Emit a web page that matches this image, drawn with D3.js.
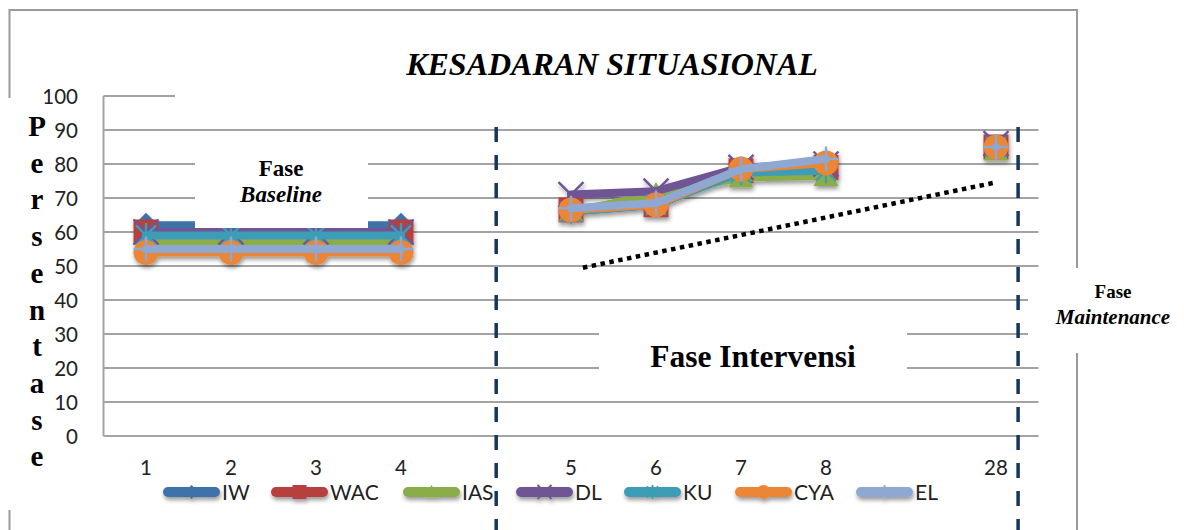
<!DOCTYPE html>
<html>
<head>
<meta charset="utf-8">
<script src="https://cdn.jsdelivr.net/npm/d3@7"></script>
<style>
  html, body { margin: 0; padding: 0; background: #fff; }
  svg { display: block; }
</style>
</head>
<body>
<svg id="chart" width="1184" height="530"></svg>
<script>
// ---------------- DATA ----------------
const xLabels = ["1", "2", "3", "4", "", "5", "6", "7", "8", "", "28"];
const yTicks = [0, 10, 20, 30, 40, 50, 60, 70, 80, 90, 100];
const seriesNames = ["IW", "WAC", "IAS", "DL", "KU", "CYA", "EL"];
const IW  = [62, 62, 62, 62, null, 66, 68, 78, 80, null, 85];
const WAC = [60, 60, 60, 60, null, 66.5, 68, 78, 79, null, 85];
const IAS = [57, 57, 57, 57, null, 66, 71, 76, 76.5, null, 84];
const DL  = [60, 60, 60, 60, null, 71, 72, 79, 80, null, 86];
const KU  = [59, 59, 59, 59, null, 66, 68, 77.5, 78, null, 85];
const CYA = [54, 54, 54, 54, null, 66.5, 68, 78.5, 80.3, null, 85];
const EL  = [55, 55, 55, 55, null, 67, 68.5, 78.5, 81.5, null, 85];
const seriesValues = [IW, WAC, IAS, DL, KU, CYA, EL];
// trend line (index of category + fraction of band, value)
const trendIdx = [5.14, 9.98];
const trendVal = [49.5, 74.5];
// phase separators (category index + fraction)
const phaseIdx = [4.12, 10.26];
const titleText = "KESADARAN SITUASIONAL";
const yTitle = "Persentase";

// ---------------- STYLE / LAYOUT ----------------
const colors = ["#3f72aa", "#b5403c", "#8aad4a", "#6f5595", "#3d9cb6", "#ea8634", "#8ea8d2"];
const markers = ["diamond", "square", "triangle", "x", "star", "circle", "plus"];
const legendStarts = [163, 271, 403, 516, 624, 735, 856];

const svg = d3.select("#chart");
const plot = { left: 103.5, right: 1038.5, top: 96, bottom: 436 };

const x = d3.scaleBand().domain(d3.range(xLabels.length)).range([plot.left, plot.right]).paddingInner(0).paddingOuter(0);
const xc = i => x(Math.floor(i)) + x.bandwidth() * (0.5 + (i - Math.floor(i)));
const y = d3.scaleLinear().domain([0, 100]).range([plot.bottom, plot.top]);

const defs = svg.append("defs");
const f = defs.append("filter").attr("id", "shadow").attr("x", "-20%").attr("y", "-30%").attr("width", "140%").attr("height", "180%");
f.append("feDropShadow").attr("dx", 1).attr("dy", 3).attr("stdDeviation", 2.2).attr("flood-color", "#000").attr("flood-opacity", 0.4);

// outer frame
svg.append("rect").attr("x", 9.5).attr("y", 10).attr("width", 1067.5).attr("height", 600)
  .attr("fill", "none").attr("stroke", "#9a9a9a").attr("stroke-width", 2);

// gridlines
svg.append("g").selectAll("line").data(yTicks).join("line")
  .attr("x1", plot.left).attr("x2", plot.right)
  .attr("y1", d => y(d)).attr("y2", d => y(d))
  .attr("stroke", "#a3a3a3").attr("stroke-width", 2);
svg.append("line").attr("x1", plot.left).attr("x2", plot.left).attr("y1", plot.top).attr("y2", plot.bottom)
  .attr("stroke", "#a3a3a3").attr("stroke-width", 2);

const sans = "Lato, 'Open Sans', sans-serif";
// y tick labels
const yAxis = d3.axisLeft(y).tickValues(yTicks).tickSize(0).tickPadding(0);
const gy = svg.append("g").attr("transform", `translate(78,0)`).call(yAxis);
gy.select(".domain").remove();
gy.selectAll("text").attr("font-family", sans).attr("font-size", 20.5).attr("fill", "#222").attr("dy", "0.35em");

// x tick labels
const xAxis = d3.axisBottom(x).tickFormat(i => xLabels[i]).tickSize(0).tickPadding(0);
const gx = svg.append("g").attr("transform", `translate(0,${plot.bottom + 24})`).call(xAxis);
gx.select(".domain").remove();
gx.selectAll("text").attr("font-family", sans).attr("font-size", 20.5).attr("fill", "#222").attr("dy", "0.71em");

function drawMarker(g, type, color, s, sw) {
  if (type === "diamond") {
    g.append("path").attr("d", `M0,${-s}L${s},0L0,${s}L${-s},0Z`).attr("fill", color);
  } else if (type === "square") {
    g.append("rect").attr("x", -s).attr("y", -s).attr("width", s * 2).attr("height", s * 2).attr("fill", color);
  } else if (type === "triangle") {
    g.append("path").attr("d", `M0,${-s}L${s},${s * 0.8}L${-s},${s * 0.8}Z`).attr("fill", color);
  } else if (type === "x") {
    g.append("path").attr("d", `M${-s},${-s}L${s},${s}M${-s},${s}L${s},${-s}`).attr("stroke", color).attr("stroke-width", sw).attr("fill", "none");
  } else if (type === "star") {
    g.append("path").attr("d", `M${-s * 0.8},${-s * 0.8}L${s * 0.8},${s * 0.8}M${-s * 0.8},${s * 0.8}L${s * 0.8},${-s * 0.8}M0,${-s}L0,${s}`).attr("stroke", color).attr("stroke-width", sw).attr("fill", "none");
  } else if (type === "circle") {
    g.append("circle").attr("r", s).attr("fill", color);
  } else if (type === "plus") {
    g.append("path").attr("d", `M0,${-s}L0,${s}M${-s},0L${s},0`).attr("stroke", color).attr("stroke-width", sw).attr("fill", "none");
  }
}

// series
const series = seriesNames.map((n, k) => ({ name: n, values: seriesValues[k], color: colors[k], marker: markers[k] }));
const line = d3.line().defined(d => d.v !== null).x(d => xc(d.i)).y(d => y(d.v));
const sg = svg.append("g").attr("filter", "url(#shadow)");
series.forEach(s => {
  const pts = s.values.map((v, i) => ({ i, v }));
  const g = sg.append("g");
  g.append("path").datum(pts).attr("d", line).attr("fill", "none").attr("stroke", s.color)
    .attr("stroke-width", 8).attr("stroke-linejoin", "round").attr("stroke-linecap", "round");
  pts.filter(d => d.v !== null).forEach(d => {
    const mg = g.append("g").attr("transform", `translate(${xc(d.i)},${y(d.v)})`);
    drawMarker(mg, s.marker, s.color, 12.5, 2.4);
  });
});

// trend line
svg.append("line")
  .attr("x1", xc(trendIdx[0])).attr("y1", y(trendVal[0]))
  .attr("x2", xc(trendIdx[1])).attr("y2", y(trendVal[1]))
  .attr("stroke", "#000").attr("stroke-width", 4.5).attr("stroke-dasharray", "4.5,4.5");

// text boxes (white background)
const serif = "'Liberation Serif', 'Times New Roman', serif";
function box(x0, y0, w, h) {
  svg.append("rect").attr("x", x0).attr("y", y0).attr("width", w).attr("height", h).attr("fill", "#fff");
}
box(175, 24, 870, 74);
svg.append("text").attr("x", 612).attr("y", 75).attr("text-anchor", "middle")
  .attr("font-family", serif).attr("font-weight", "bold").attr("font-style", "italic").attr("font-size", 32)
  .text(titleText);
box(195, 148, 173, 80);
const tb = svg.append("text").attr("text-anchor", "middle").attr("font-family", serif).attr("font-weight", "bold").attr("font-size", 23);
tb.append("tspan").attr("x", 281).attr("y", 176).text("Fase");
tb.append("tspan").attr("x", 281).attr("y", 202).attr("font-style", "italic").text("Baseline");
box(599, 312, 308, 76);
svg.append("text").attr("x", 753).attr("y", 367).attr("text-anchor", "middle")
  .attr("font-family", serif).attr("font-weight", "bold").attr("font-size", 31.5).text("Fase Intervensi");
box(1028, 268, 156, 85);
const tm = svg.append("text").attr("text-anchor", "middle").attr("font-family", serif).attr("font-weight", "bold");
tm.append("tspan").attr("x", 1113).attr("y", 298).attr("font-size", 19).text("Fase");
tm.append("tspan").attr("x", 1113).attr("y", 324).attr("font-size", 21).attr("font-style", "italic").text("Maintenance");
box(0, 98, 24, 412);
const yt = svg.append("g");
yTitle.split("").forEach((ch, k) => {
  yt.append("text").attr("x", 37).attr("y", 136 + k * 36.7).attr("text-anchor", "middle")
    .attr("font-family", serif).attr("font-weight", "bold").attr("font-size", 29).text(ch);
});

// legend
const ly = 492;
series.forEach((s, k) => {
  const lx = legendStarts[k];
  const g = svg.append("g").attr("filter", "url(#shadow)");
  g.append("line").attr("x1", lx + 5).attr("x2", lx + 52).attr("y1", ly).attr("y2", ly)
    .attr("stroke", s.color).attr("stroke-width", 10).attr("stroke-linecap", "round");
  const mg = g.append("g").attr("transform", `translate(${lx + 28.5},${ly})`);
  drawMarker(mg, s.marker, s.color, 7, 1.8);
  svg.append("text").attr("x", lx + 59).attr("y", ly).attr("dy", "0.36em")
    .attr("font-family", sans).attr("font-size", 21).attr("fill", "#222").text(s.name);
});

// phase separator dashed lines
svg.append("g").selectAll("line").data(phaseIdx).join("line")
  .attr("x1", d => xc(d)).attr("x2", d => xc(d))
  .attr("y1", 127).attr("y2", 540)
  .attr("stroke", "#17365d").attr("stroke-width", 3.5).attr("stroke-dasharray", "15,13");
</script>
</body>
</html>
